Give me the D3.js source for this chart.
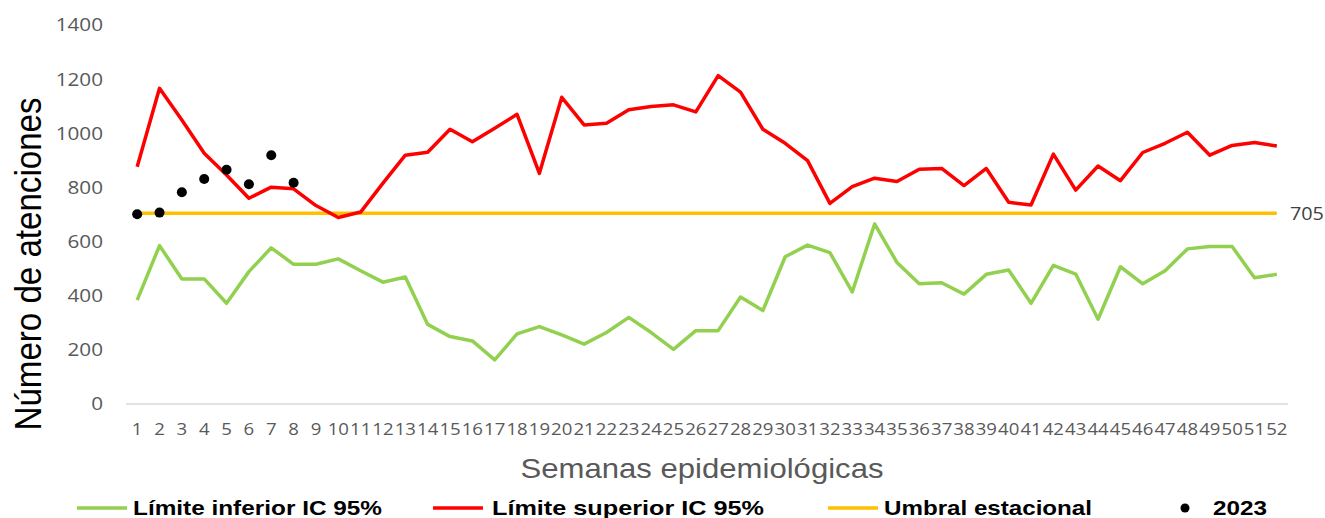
<!DOCTYPE html>
<html>
<head>
<meta charset="utf-8">
<script src="https://cdn.jsdelivr.net/npm/d3@7"></script>
<style>
  body { margin: 0; background: #fff; }
  svg { display: block; font-family: "Liberation Sans", Arial, sans-serif; }
</style>
</head>
<body>
<div id="chart"></div>
<script>
// Weeks 1..52
const weeks = d3.range(1, 53);

const lowerCI = [384, 585, 462, 462, 372, 489, 577, 516, 516, 536, 492, 450, 469, 294,
  249, 233, 163, 259, 286, 255, 221, 264, 320, 264, 202, 271, 271, 395, 345, 544,
  587, 559, 414, 665, 523, 444, 448, 406, 479, 495, 372, 512, 480, 313, 507, 444,
  492, 573, 582, 582, 466, 479];

const upperCI = [876, 1166, 1049, 926, 846, 760, 801, 795, 733, 689, 709, 816, 919, 930,
  1015, 969, 1019, 1070, 852, 1133, 1031, 1037, 1087, 1099, 1105, 1079, 1213, 1152,
  1015, 963, 899, 741, 803, 834, 822, 867, 870, 807, 870, 745, 735, 923, 790, 879,
  825, 929, 963, 1004, 919, 955, 966, 953];

const threshold = 705;

const weeks2023 = [1, 2, 3, 4, 5, 6, 7, 8];
const values2023 = [701, 707, 782, 831, 865, 812, 919, 817];

const yTicks = [0, 200, 400, 600, 800, 1000, 1200, 1400];

const width = 1325, height = 518;
const margin = { left: 126, right: 37, top: 25, bottom: 114 };

const svg = d3.select("#chart").append("svg")
  .attr("width", width)
  .attr("height", height);

const x = d3.scaleBand()
  .domain(weeks)
  .range([margin.left, width - margin.right]);

const y = d3.scaleLinear()
  .domain([0, 1400])
  .range([height - margin.bottom, margin.top]);

const cx = w => x(w) + x.bandwidth() / 2;

// y tick labels
svg.append("g")
  .selectAll("text")
  .data(yTicks)
  .join("text")
  .attr("transform", d => `translate(103, ${y(d)}) scale(1.15, 1)`)
  .attr("dy", "0.36em")
  .attr("text-anchor", "end")
  .style("font-family", "'Open Sans', sans-serif")
  .style("font-size", "18px")
  .style("fill", "#595959")
  .text(d => d);

// baseline
svg.append("line")
  .attr("x1", margin.left)
  .attr("x2", width - margin.right)
  .attr("y1", y(0))
  .attr("y2", y(0))
  .style("stroke", "#d9d9d9")
  .style("stroke-width", 1.5);

// x tick labels
svg.append("g")
  .selectAll("text")
  .data(weeks)
  .join("text")
  .attr("transform", d => `translate(${cx(d)}, 435) scale(1.2, 1)`)
  .attr("text-anchor", "middle")
  .style("font-family", "'Open Sans', sans-serif")
  .style("font-size", "15.5px")
  .style("fill", "#595959")
  .text(d => d);

// threshold line
svg.append("line")
  .attr("x1", cx(1))
  .attr("x2", cx(52))
  .attr("y1", y(threshold))
  .attr("y2", y(threshold))
  .style("stroke", "#ffc000")
  .style("stroke-width", 3.5);

svg.append("text")
  .attr("transform", `translate(1290, ${y(threshold)}) scale(1.1, 1)`)
  .attr("dy", "0.36em")
  .style("font-family", "'Open Sans', sans-serif")
  .style("font-size", "18px")
  .style("fill", "#404040")
  .text(threshold);

const line = d3.line()
  .x((d, i) => cx(weeks[i]))
  .y(d => y(d));

svg.append("path")
  .datum(lowerCI)
  .attr("d", line)
  .style("fill", "none")
  .style("stroke", "#92d050")
  .style("stroke-width", 3.5)
  .style("stroke-linejoin", "round");

svg.append("path")
  .datum(upperCI)
  .attr("d", line)
  .style("fill", "none")
  .style("stroke", "#ff0000")
  .style("stroke-width", 3.5)
  .style("stroke-linejoin", "round");

svg.append("g")
  .selectAll("circle")
  .data(values2023)
  .join("circle")
  .attr("cx", (d, i) => cx(weeks2023[i]))
  .attr("cy", d => y(d))
  .attr("r", 5)
  .style("fill", "#000");

// axis titles
svg.append("text")
  .attr("transform", "translate(41, 264) rotate(-90)")
  .attr("text-anchor", "middle")
  .attr("textLength", 333)
  .attr("lengthAdjust", "spacingAndGlyphs")
  .style("font-size", "37px")
  .style("fill", "#000")
  .text("Número de atenciones");

svg.append("text")
  .attr("x", 702)
  .attr("y", 478)
  .attr("text-anchor", "middle")
  .attr("textLength", 363)
  .attr("lengthAdjust", "spacingAndGlyphs")
  .style("font-size", "28px")
  .style("fill", "#595959")
  .text("Semanas epidemiológicas");

// legend
const legendItems = [
  { label: "Límite inferior IC 95%", color: "#92d050", type: "line", x: 77, tx: 133, tw: 249 },
  { label: "Límite superior IC 95%", color: "#ff0000", type: "line", x: 433, tx: 492, tw: 272 },
  { label: "Umbral estacional", color: "#ffc000", type: "line", x: 828, tx: 884, tw: 208 },
  { label: "2023", color: "#000", type: "dot", x: 1180, tx: 1213, tw: 54 }
];

const legend = svg.append("g");
legendItems.forEach(item => {
  if (item.type === "line") {
    legend.append("line")
      .attr("x1", item.x)
      .attr("x2", item.x + 50)
      .attr("y1", 508)
      .attr("y2", 508)
      .style("stroke", item.color)
      .style("stroke-width", 3.5);
  } else {
    legend.append("circle")
      .attr("cx", item.x + 5)
      .attr("cy", 508)
      .attr("r", 4.5)
      .style("fill", item.color);
  }
  legend.append("text")
    .attr("x", item.tx)
    .attr("y", 508)
    .attr("dy", "0.35em")
    .attr("textLength", item.tw)
    .attr("lengthAdjust", "spacingAndGlyphs")
    .style("font-size", "21px")
    .style("font-weight", "bold")
    .style("fill", "#000")
    .text(item.label);
});
</script>
</body>
</html>
